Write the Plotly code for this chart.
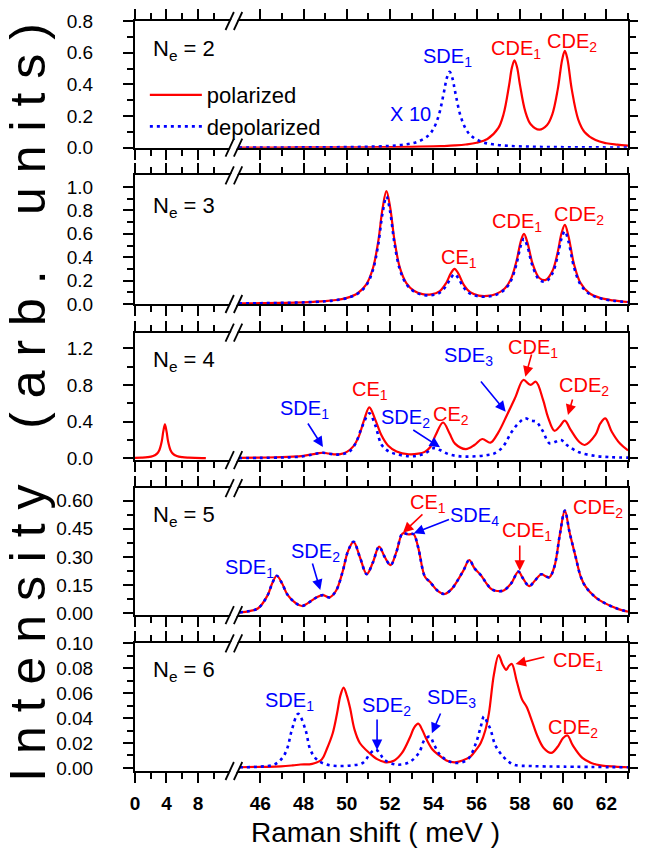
import plotly.graph_objects as go

# ---------------- data ----------------
# N_e = 2  (depolarized multiplied by 10)
ne2_x_pol = [45, 46, 47, 48, 49, 50, 51, 52, 53, 54, 54.5, 55, 55.5, 56, 56.5, 57, 57.25, 57.5, 57.63,
             57.75, 57.87, 58, 58.25, 58.5, 58.9, 59.25, 59.5, 59.75, 59.96, 60.08, 60.2, 60.4, 60.7,
             61, 61.5, 62, 62.5, 63]
ne2_pol = [0.0008, 0.001, 0.0012, 0.0015, 0.0018, 0.0022, 0.0029, 0.0039, 0.0054, 0.0081, 0.0105, 0.0141,
           0.020, 0.031, 0.055, 0.123, 0.214, 0.393, 0.504, 0.552, 0.508, 0.400, 0.229, 0.148, 0.114,
           0.142, 0.211, 0.367, 0.559, 0.611, 0.559, 0.368, 0.178, 0.098, 0.048, 0.028, 0.019, 0.013]
ne2_x_dep = [45, 46, 47, 48, 49, 50, 51, 52, 52.75, 53.25, 53.75, 54.0, 54.25, 54.5, 54.62, 54.75, 54.88,
             55.0, 55.25, 55.5, 55.75, 56.25, 56.75, 57.5, 58.5, 59.5, 60.5, 61.5, 62.5, 63]
ne2_dep = [0.0009, 0.0012, 0.0015, 0.0019, 0.0027, 0.0039, 0.0062, 0.0114, 0.0212, 0.0364, 0.0747, 0.1185,
           0.204, 0.358, 0.439, 0.479, 0.439, 0.358, 0.204, 0.1185, 0.0747, 0.0364, 0.0212, 0.0114,
           0.0062, 0.0039, 0.0027, 0.0019, 0.0015, 0.0013]

# N_e = 3
ne3_x = [45, 46, 47, 48, 49, 49.5, 50, 50.5, 50.9, 51.2, 51.45, 51.65, 51.83, 52.0, 52.2, 52.45, 52.75,
         53.1, 53.5, 53.9, 54.3, 54.6, 54.8, 54.98, 55.15, 55.4, 55.7, 56.1, 56.5, 56.9, 57.3, 57.6,
         57.85, 58.05, 58.19, 58.35, 58.6, 58.9, 59.2, 59.5, 59.75, 59.92, 60.08, 60.25, 60.5, 60.8,
         61.2, 61.7, 62.3, 63]
ne3_pol = [0.005, 0.0068, 0.0094, 0.014, 0.024, 0.034, 0.052, 0.092, 0.168, 0.301, 0.533, 0.815, 0.964,
           0.830, 0.548, 0.311, 0.179, 0.113, 0.084, 0.082, 0.111, 0.182, 0.259, 0.301, 0.262, 0.166,
           0.101, 0.072, 0.069, 0.085, 0.132, 0.219, 0.371, 0.540, 0.599, 0.525, 0.338, 0.222, 0.206,
           0.279, 0.442, 0.600, 0.676, 0.577, 0.343, 0.181, 0.094, 0.052, 0.031, 0.017]
ne3_dep = [0.005, 0.0068, 0.0094, 0.014, 0.023, 0.033, 0.05, 0.088, 0.16, 0.287, 0.507, 0.775, 0.918,
           0.79, 0.52, 0.295, 0.17, 0.107, 0.079, 0.075, 0.097, 0.156, 0.22, 0.255, 0.222, 0.142, 0.088,
           0.065, 0.063, 0.079, 0.123, 0.204, 0.346, 0.503, 0.558, 0.49, 0.316, 0.207, 0.192, 0.259,
           0.41, 0.556, 0.622, 0.532, 0.317, 0.168, 0.088, 0.049, 0.029, 0.016]

# N_e = 4
ne4_x_low = [0, 0.8, 1.6, 2.3, 2.8, 3.1, 3.4, 3.6, 3.8, 4.0, 4.2, 4.5, 4.8, 5.3, 6.0, 6.8, 7.6, 9.0]
ne4_pol_low = [0.004, 0.0065, 0.012, 0.025, 0.051, 0.091, 0.185, 0.296, 0.37, 0.296, 0.185, 0.091,
               0.051, 0.025, 0.012, 0.0065, 0.004, 0.0022]
ne4_x_pol = [45, 46, 47, 47.5, 48.0, 48.4, 48.7, 48.9, 49.15, 49.4, 49.7, 50.0, 50.3, 50.55, 50.8, 51.04,
             51.3, 51.6, 51.9, 52.3, 52.86, 53.3, 53.6, 53.85, 54.1, 54.45, 54.75, 55.0, 55.5, 55.9,
             56.26, 56.64, 57.0, 57.4, 57.8, 58.16, 58.49, 58.74, 59.07, 59.3, 59.6, 59.85, 60.08,
             60.35, 60.74, 61.0, 61.49, 61.72, 61.95, 62.25, 62.63, 63.0]
ne4_pol = [0.004, 0.007, 0.012, 0.017, 0.027, 0.042, 0.056, 0.06, 0.052, 0.043, 0.045, 0.07, 0.13, 0.236,
           0.42, 0.556, 0.43, 0.25, 0.14, 0.075, 0.044, 0.05, 0.07, 0.12, 0.25, 0.39, 0.27, 0.16, 0.10,
           0.145, 0.21, 0.17, 0.28, 0.47, 0.67, 0.854, 0.80, 0.835, 0.64, 0.45, 0.30, 0.35, 0.41, 0.31,
           0.18, 0.145, 0.254, 0.38, 0.436, 0.29, 0.16, 0.085]
ne4_x_dep = [45, 46, 47, 47.5, 48.0, 48.4, 48.7, 48.9, 49.2, 49.5, 49.8, 50.1, 50.4, 50.7, 51.04, 51.3,
             51.6, 51.9, 52.3, 52.86, 53.3, 53.7, 54.0, 54.3, 54.7, 55.1, 55.5, 56.0, 56.5, 56.8, 57.2,
             57.6, 57.93, 58.24, 58.5, 58.75, 59.05, 59.37, 59.65, 59.9, 60.2, 60.74, 61.5, 62.2, 63.0]
ne4_dep = [0.002, 0.004, 0.008, 0.012, 0.022, 0.04, 0.056, 0.06, 0.05, 0.04, 0.045, 0.07, 0.16, 0.34,
           0.49, 0.37, 0.15, 0.08, 0.045, 0.022, 0.03, 0.065, 0.11, 0.09, 0.045, 0.025, 0.018, 0.022,
           0.035, 0.05, 0.12, 0.28, 0.38, 0.436, 0.41, 0.40, 0.30, 0.163, 0.18, 0.20, 0.14, 0.065,
           0.025, 0.012, 0.007]

# N_e = 5 (polarized and depolarized coincide)
ne5_x = [45.05, 45.5, 45.9, 46.34, 46.55, 46.76, 47.0, 47.25, 47.63, 47.93, 48.4, 48.6, 48.89, 49.2,
         49.5, 49.8, 50.05, 50.31, 50.6, 50.92, 51.2, 51.49, 51.75, 52.02, 52.3, 52.58, 52.85, 53.08,
         53.3, 53.61, 53.84, 54.2, 54.52, 54.85, 55.13, 55.4, 55.66, 55.9, 56.19, 56.45, 56.64, 56.87,
         57.25, 57.6, 57.93, 58.15, 58.43, 58.7, 58.99, 59.2, 59.37, 59.6, 59.85, 60.08, 60.3, 60.58,
         60.8, 61.04, 61.5, 61.95, 62.5, 63.0]
ne5_pol = [0.005, 0.012, 0.027, 0.097, 0.16, 0.20, 0.16, 0.1, 0.055, 0.039, 0.07, 0.085, 0.097, 0.085,
           0.12, 0.22, 0.33, 0.381, 0.30, 0.209, 0.27, 0.355, 0.30, 0.257, 0.33, 0.426, 0.42, 0.422,
           0.35, 0.195, 0.168, 0.12, 0.103, 0.13, 0.177, 0.23, 0.284, 0.24, 0.204, 0.16, 0.133, 0.12,
           0.122, 0.16, 0.222, 0.185, 0.145, 0.175, 0.208, 0.197, 0.192, 0.25, 0.42, 0.547, 0.43, 0.30,
           0.2, 0.142, 0.085, 0.053, 0.025, 0.0085]
ne5_dep = ne5_pol

# N_e = 6
ne6_x_pol = [45.05, 46.0, 46.95, 47.5, 47.86, 48.4, 48.84, 49.07, 49.35, 49.55, 49.7, 49.85, 50.0, 50.15,
             50.35, 50.6, 51.04, 51.4, 51.8, 52.2, 52.55, 52.93, 53.1, 53.3, 53.5, 53.69, 53.95, 54.22,
             54.6, 54.98, 55.35, 55.73, 56.0, 56.19, 56.4, 56.57, 56.8, 57.02, 57.2, 57.37, 57.5, 57.63,
             57.85, 58.1, 58.31, 58.54, 58.8, 59.1, 59.45, 59.75, 60.0, 60.2, 60.45, 60.89, 61.3, 61.8,
             62.4, 63.0]
ne6_pol = [0.0005, 0.0008, 0.0012, 0.002, 0.0027, 0.0032, 0.0067, 0.015, 0.028, 0.044, 0.058, 0.0645,
           0.058, 0.048, 0.031, 0.02, 0.012, 0.007, 0.0045, 0.006, 0.012, 0.025, 0.032, 0.0355, 0.03,
           0.0227, 0.015, 0.0107, 0.006, 0.0045, 0.006, 0.0093, 0.015, 0.02, 0.03, 0.044, 0.075, 0.0906,
           0.083, 0.0786, 0.082, 0.0834, 0.07, 0.055, 0.049, 0.0386, 0.026, 0.016, 0.012, 0.017, 0.024,
           0.026, 0.018, 0.008, 0.004, 0.0018, 0.001, 0.0005]
ne6_x_dep = [45.05, 46.0, 46.65, 47.02, 47.25, 47.45, 47.75, 48.08, 48.31, 48.61, 49.07, 49.6, 50.2,
             50.74, 51.1, 51.34, 51.55, 51.72, 52.25, 52.86, 53.33, 53.6, 53.84, 54.05, 54.37, 54.98,
             55.58, 55.97, 56.19, 56.34, 56.5, 56.64, 56.87, 57.25, 57.7, 58.5, 60.0, 63.0]
ne6_dep = [0.0005, 0.001, 0.0027, 0.008, 0.016, 0.03, 0.0434, 0.031, 0.0147, 0.0067, 0.0027, 0.0015,
           0.002, 0.004, 0.012, 0.0147, 0.011, 0.0067, 0.0027, 0.0043, 0.012, 0.0227, 0.025, 0.018,
           0.0093, 0.004, 0.0067, 0.02, 0.033, 0.0413, 0.036, 0.031, 0.018, 0.0087, 0.0027, 0.0015,
           0.001, 0.0005]

# axis ticks
x_low_ticks = [0, 4, 8]
x_low_minor = [2, 6, 10]
x_high_ticks = [46, 48, 50, 52, 54, 56, 58, 60, 62]
x_high_minor = [47, 49, 51, 53, 55, 57, 59, 61, 63]
ne_labels = ["2", "3", "4", "5", "6"]
y_ticks = [[0.0, 0.2, 0.4, 0.6, 0.8], [0.0, 0.2, 0.4, 0.6, 0.8, 1.0], [0.0, 0.4, 0.8, 1.2],
           [0.0, 0.15, 0.30, 0.45, 0.60], [0.0, 0.02, 0.04, 0.06, 0.08, 0.10]]
y_minor = [[0.1, 0.3, 0.5, 0.7], [0.1, 0.3, 0.5, 0.7, 0.9], [0.2, 0.6, 1.0],
           [0.075, 0.225, 0.375, 0.525], [0.01, 0.03, 0.05, 0.07, 0.09]]
y_fmt = ["{:.1f}", "{:.1f}", "{:.1f}", "{:.2f}", "{:.2f}"]
y_ranges = [[0, 0.8], [0, 1.1], [-0.02, 1.37], [-0.01, 0.667], [-0.0025, 0.1]]

# ---------------- layout geometry ----------------
W, H = 645, 848
ML, MR, MT, MB = 135, 9, 21, 77
PW = W - ML - MR
PH = H - MT - MB
FONT = "Liberation Sans, Arial, Helvetica, sans-serif"
RED = "#ff0000"
BLUE = "#0000ff"


def fx(px):
    return (px - ML) / PW


def fy(py):
    return (H - MB - py) / PH


XSPLIT = fx(236)
panel_px = [(21, 147.7), (175.3, 304), (332.7, 460.1), (488.1, 615.2), (643.3, 771)]

fig = go.Figure()


def ax_names(i):
    k1, k2 = 2 * i + 1, 2 * i + 2
    return (("x" if k1 == 1 else f"x{k1}"), f"x{k2}", ("y" if k1 == 1 else f"y{k1}"), f"y{k2}")


pol_style = dict(color=RED, width=2.2)
dep_style = dict(color=BLUE, width=2.6, dash="3px,4px")

series = [
    (ne2_x_pol, ne2_pol, ne2_x_dep, ne2_dep),
    (ne3_x, ne3_pol, ne3_x, ne3_dep),
    (ne4_x_pol, ne4_pol, ne4_x_dep, ne4_dep),
    (ne5_x, ne5_pol, ne5_x, ne5_dep),
    (ne6_x_pol, ne6_pol, ne6_x_dep, ne6_dep),
]

for i, (xp, yp, xd, yd) in enumerate(series):
    xl, xr, yl, yr = ax_names(i)
    fig.add_trace(go.Scatter(x=xp, y=yp, xaxis=xr, yaxis=yr, mode="lines", line=pol_style,
                             line_shape="spline", name="polarized", showlegend=(i == 0),
                             legendrank=1))
    fig.add_trace(go.Scatter(x=xd, y=yd, xaxis=xr, yaxis=yr, mode="lines", line=dep_style,
                             line_shape="spline", name="depolarized", showlegend=(i == 0),
                             legendrank=2))
    if i != 2:
        # empty trace so that the low-energy segment of this panel gets its axes drawn
        fig.add_trace(go.Scatter(x=[], y=[], xaxis=xl, yaxis=yl, mode="lines", showlegend=False,
                                 hoverinfo="skip"))

xl, xr, yl, yr = ax_names(2)
fig.add_trace(go.Scatter(x=ne4_x_low, y=ne4_pol_low, xaxis=xl, yaxis=yl, mode="lines", line=pol_style,
                         line_shape="spline", showlegend=False))

layout = {}
common = dict(showline=True, linecolor="black", linewidth=2, ticks="outside", tickcolor="black",
              tickwidth=2, showgrid=False, zeroline=False)
for i in range(5):
    xl, xr, yl, yr = ax_names(i)
    top, bot = panel_px[i]
    dom = [fy(bot), fy(top)]
    last = (i == 4)
    layout["xaxis" + xl[1:]] = dict(
        common, domain=[0, XSPLIT], range=[0, 12.625], anchor=yl, mirror="allticks",
        tickmode="array", tickvals=x_low_ticks, ticklen=10, showticklabels=last,
        tickfont=dict(family=FONT, size=19, color="black", weight="bold"), ticklabelstandoff=4,
        minor=dict(tickvals=x_low_minor, ticklen=6, tickwidth=2, tickcolor="black", ticks="outside"))
    layout["xaxis" + xr[1:]] = dict(
        common, domain=[XSPLIT, 1], range=[44.8, 63], anchor=yr, mirror="allticks",
        tickmode="array", tickvals=x_high_ticks, ticklen=10, showticklabels=last,
        tickfont=dict(family=FONT, size=19, color="black", weight="bold"), ticklabelstandoff=4,
        minor=dict(tickvals=x_high_minor, ticklen=6, tickwidth=2, tickcolor="black", ticks="outside"))
    layout["yaxis" + yl[1:]] = dict(
        common, domain=dom, range=y_ranges[i], anchor=xl, side="left",
        tickmode="array", tickvals=y_ticks[i], ticktext=[y_fmt[i].format(v) for v in y_ticks[i]],
        ticklen=10, ticklabelstandoff=26,
        tickfont=dict(family=FONT, size=19, color="black"),
        minor=dict(tickvals=y_minor[i], ticklen=6, tickwidth=2, tickcolor="black", ticks="outside"))
    layout["yaxis" + yr[1:]] = dict(
        common, domain=dom, range=y_ranges[i], anchor=xr, side="right",
        tickmode="array", tickvals=y_ticks[i], ticklen=8, showticklabels=False,
        minor=dict(tickvals=y_minor[i], ticklen=6, tickwidth=2, tickcolor="black", ticks="outside"))

fig.update_layout(**layout)

# ---------------- break marks ----------------
shapes = []
for top, bot in panel_px:
    for yy in (top, bot):
        shapes.append(dict(type="line", xref="paper", yref="paper", x0=fx(231.5), y0=fy(yy + 8),
                           x1=fx(239.5), y1=fy(yy - 8), line=dict(color="white", width=6)))
        for x0 in (227, 235.5):
            shapes.append(dict(type="line", xref="paper", yref="paper", x0=fx(x0), y0=fy(yy + 9),
                               x1=fx(x0 + 8.5), y1=fy(yy - 9), line=dict(color="black", width=1.8)))

# ---------------- annotations ----------------
ann = []
LAB = 20


def label(text, px, py, color, size=LAB, xanchor="center"):
    ann.append(dict(text=text, x=fx(px), y=fy(py), xref="paper", yref="paper", showarrow=False,
                    font=dict(family=FONT, size=size, color=color), xanchor=xanchor, yanchor="middle"))


def arrow(x0, y0, x1, y1, color):
    ann.append(dict(text="", x=fx(x1), y=fy(y1), xref="paper", yref="paper", ax=x0 - x1, ay=y0 - y1,
                    showarrow=True, arrowhead=2, arrowsize=1.3, arrowwidth=1.6, arrowcolor=color))


ne_y = [50, 207, 361, 516, 671]
for lab, yy in zip(ne_labels, ne_y):
    label(f"N<sub>e</sub> = {lab}", 151, yy, "black", size=22, xanchor="left")

# panel 1
label("SDE<sub>1</sub>", 453, 57, BLUE)
label("X 10", 415, 114, BLUE)
label("CDE<sub>1</sub>", 522, 50, RED)
label("CDE<sub>2</sub>", 579, 42, RED)
# panel 2
label("CE<sub>1</sub>", 464, 258, RED)
label("CDE<sub>1</sub>", 523, 222, RED)
label("CDE<sub>2</sub>", 586, 215, RED)
# panel 3
label("SDE<sub>1</sub>", 307, 410, BLUE)
label("CE<sub>1</sub>", 374, 390, RED)
label("SDE<sub>2</sub>", 410, 418, BLUE)
label("CE<sub>2</sub>", 456, 416, RED)
label("SDE<sub>3</sub>", 474, 356, BLUE)
label("CDE<sub>1</sub>", 539, 348, RED)
label("CDE<sub>2</sub>", 591, 386, RED)
arrow(310, 422, 326, 447, BLUE)
arrow(416.7, 429, 445, 447.3, BLUE)
arrow(485.7, 380, 511.7, 411.7, BLUE)
arrow(538.3, 353, 531.7, 376.7, RED)
arrow(580, 398, 575, 415, RED)
# panel 4
label("SDE<sub>1</sub>", 251, 568, BLUE)
label("SDE<sub>2</sub>", 318, 552, BLUE)
label("CE<sub>1</sub>", 433, 503, RED)
label("SDE<sub>4</sub>", 480, 516, BLUE)
label("CDE<sub>1</sub>", 533, 531, RED)
label("CDE<sub>2</sub>", 606, 508, RED)
arrow(315, 562, 323.3, 590, BLUE)
arrow(428.3, 513, 407.3, 532.7, RED)
arrow(455, 519, 418.3, 533.3, BLUE)
arrow(526, 544, 526, 570.7, RED)
# panel 5
label("SDE<sub>1</sub>", 292, 701, BLUE)
label("SDE<sub>2</sub>", 391, 706, BLUE)
label("SDE<sub>3</sub>", 457, 698, BLUE)
label("CDE<sub>1</sub>", 585, 661, RED)
label("CDE<sub>2</sub>", 580, 728, RED)
arrow(381, 718, 381, 750, BLUE)
arrow(446, 712, 436.7, 733.3, BLUE)
arrow(552, 656.7, 521.7, 664, RED)

# axis titles
ytitle = "\u00a0".join(list("Intensity")) + "\u00a0" * 4 + "\u00a0".join(list("(arb.")) + \
    "\u00a0" * 4 + "\u00a0".join(list("units)"))
ann.append(dict(text=ytitle, x=fx(26), y=fy(402), xref="paper", yref="paper", showarrow=False,
                textangle=-90, font=dict(family=FONT, size=50, color="black"),
                xanchor="center", yanchor="middle"))
ann.append(dict(text="Raman shift ( meV )", x=fx(379), y=fy(832), xref="paper", yref="paper",
                showarrow=False, font=dict(family=FONT, size=28, color="black"),
                xanchor="center", yanchor="middle"))

fig.update_layout(
    width=W, height=H, margin=dict(l=ML, r=MR, t=MT, b=MB, pad=0),
    paper_bgcolor="white", plot_bgcolor="white",
    shapes=shapes, annotations=ann,
    legend=dict(x=fx(145), y=fy(74), xanchor="left", yanchor="top", bgcolor="rgba(0,0,0,0)",
                font=dict(family=FONT, size=22, color="black"), itemwidth=52, tracegroupgap=0,
                traceorder="normal"),
)

fig.write_html("out.html", config={"displayModeBar": False},
               post_script="document.body.style.margin='0px';")
